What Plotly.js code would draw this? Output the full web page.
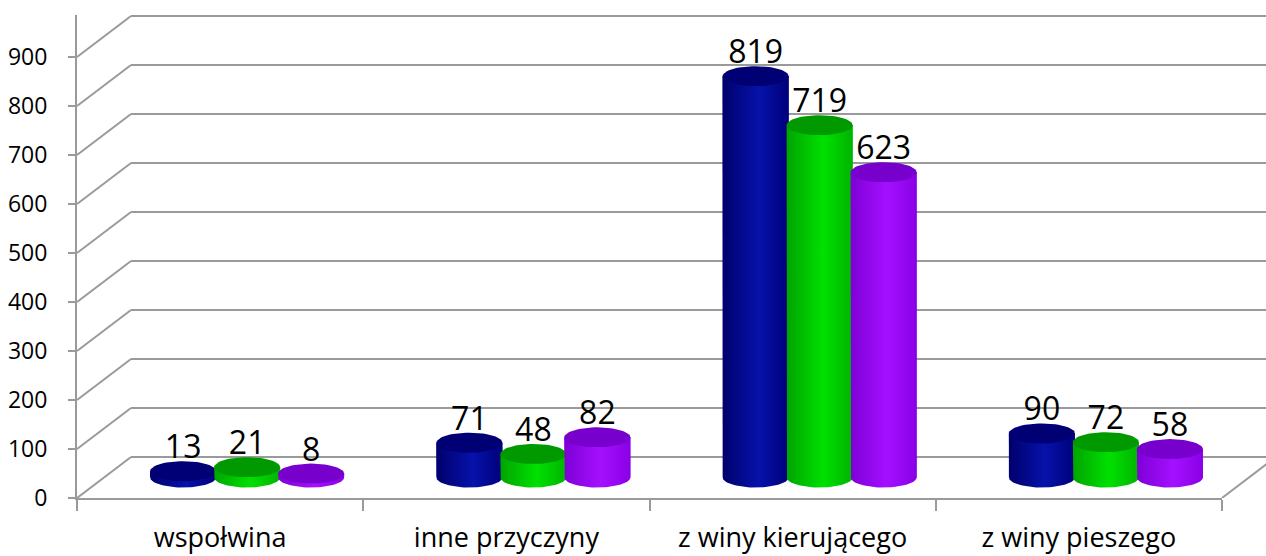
<!DOCTYPE html>
<html>
<head>
<meta charset="utf-8">
<script src="https://cdn.plot.ly/plotly-3.0.1.min.js"></script>
<style>html,body{margin:0;padding:0;background:#fff;}#chart{width:1266px;height:556px;}</style>
</head>
<body>
<div id="chart"></div>
<script>
// ---- data ----
const categories = ['wspołwina', 'inne przyczyny', 'z winy kierującego', 'z winy pieszego'];
const series1 = [13, 71, 819, 90];   // blue
const series2 = [21, 48, 719, 72];   // green
const series3 = [8, 82, 623, 58];    // purple
const seriesNames = ['Seria 1', 'Seria 2', 'Seria 3'];
const yTickVals = [0, 100, 200, 300, 400, 500, 600, 700, 800, 900];

// ---- styles ----
const bodyColors = ['#00008f', '#00c800', '#9600f5'];
const bodyScales = [
  [[0, '#00006c'], [0.55, '#0612aa'], [1, '#00007a']],
  [[0, '#00a400'], [0.55, '#00e000'], [1, '#00b400']],
  [[0, '#7e00d6'], [0.55, '#a410ff'], [1, '#8a00e6']]
];
const topColors = ['#000074', '#009a00', '#7800cc'];
const gridColor = '#9a9a9a';

// ---- geometry (px) ----
const W = 1266, H = 556;
const mL = 77, mR = 0, mT = 15, mB = 58;
const plotW = W - mL - mR, plotH = H - mT - mB;
const frontW = 1145;
const pxPerUnit = 441 / 900;
const yTop = plotH / pxPerUnit;
const depthX = 54, depthY = 41;
const pxPerCat = frontW / categories.length;
const dx = (depthX / 2) / pxPerCat;
const dy = (depthY / 2) / pxPerUnit;
const backDy = depthY / pxPerUnit;
const backDx = depthX / plotW;
const xDom = frontW / plotW;

const barW = 66 / pxPerCat;
const barStep = 64 / pxPerCat;
const capH = 10 / pxPerUnit;
const labelGap = 5 / pxPerUnit;

const allSeries = [series1, series2, series3];
const catIdx = categories.map((_, i) => i);

const traces = [];
traces.push({type: 'scatter', x: categories, y: categories.map(() => 0), mode: 'markers',
  marker: {opacity: 0}, hoverinfo: 'skip', showlegend: false, xaxis: 'x', yaxis: 'y'});

allSeries.forEach((vals, s) => {
  const off = (s - 1) * barStep;
  traces.push({type: 'bar', name: seriesNames[s], x: catIdx, y: vals, base: 0,
    width: barW, offset: off - barW / 2, marker: {color: bodyColors[s], line: {width: 0}},
    xaxis: 'x2', yaxis: 'y2', showlegend: false, hoverinfo: 'y'});
});

// cylinder shading: body (with rounded bottom) + top ellipse, per bar
catIdx.forEach(i => {
  allSeries.forEach((vals, s) => {
    const v = vals[i];
    const cx = i + (s - 1) * barStep;
    const a = barW / 2;
    const px = [cx - a], py = [v];
    for (let k = 0; k <= 40; k++) {
      const t = Math.PI + Math.PI * k / 40;
      px.push(cx + a * Math.cos(t)); py.push(capH * Math.sin(t));
    }
    px.push(cx + a); py.push(v);
    traces.push({type: 'scatter', x: px, y: py, mode: 'lines', fill: 'toself',
      fillcolor: bodyColors[s],
      fillgradient: {type: 'horizontal', colorscale: bodyScales[s], start: cx - a, stop: cx + a},
      line: {width: 0, color: bodyColors[s]},
      xaxis: 'x2', yaxis: 'y2', hoverinfo: 'skip', showlegend: false, cliponaxis: false});
    const tx = [], ty = [];
    for (let k = 0; k <= 60; k++) {
      const t = 2 * Math.PI * k / 60;
      tx.push(cx + a * Math.cos(t)); ty.push(v + capH * Math.sin(t));
    }
    traces.push({type: 'scatter', x: tx, y: ty, mode: 'lines', fill: 'toself',
      fillcolor: topColors[s], line: {width: 0, color: topColors[s]},
      xaxis: 'x2', yaxis: 'y2', hoverinfo: 'skip', showlegend: false, cliponaxis: false});
  });
});

allSeries.forEach((vals, s) => {
  const off = (s - 1) * barStep;
  traces.push({type: 'scatter', mode: 'text', x: catIdx.map(i => i + off),
    y: vals.map(v => v + capH - labelGap), text: vals.map(String), textposition: 'top center',
    textfont: {family: 'Open Sans', size: 32, color: '#000'},
    xaxis: 'x2', yaxis: 'y2', hoverinfo: 'skip', showlegend: false, cliponaxis: false});
});

const shapes = [];
yTickVals.forEach(v => {
  shapes.push({type: 'line', xref: 'paper', yref: 'y', x0: 0, y0: v, x1: backDx, y1: v + backDy,
    line: {color: gridColor, width: 2}, layer: 'below'});
  shapes.push({type: 'line', xref: 'paper', yref: 'y', x0: backDx, y0: v + backDy, x1: 1.05, y1: v + backDy,
    line: {color: gridColor, width: 2}, layer: 'below'});
});
shapes.push({type: 'line', xref: 'paper', yref: 'y', x0: xDom, y0: 0, x1: xDom + backDx, y1: backDy,
  line: {color: gridColor, width: 2}, layer: 'below'});

const layout = {
  width: W, height: H,
  margin: {l: mL, r: mR, t: mT, b: mB, pad: 0},
  paper_bgcolor: '#fff', plot_bgcolor: 'rgba(0,0,0,0)',
  showlegend: false,
  barmode: 'overlay',
  font: {family: 'Open Sans', color: '#000'},
  xaxis: {type: 'category', domain: [0, xDom], range: [-0.5, categories.length - 0.5],
    categoryorder: 'array', categoryarray: categories,
    showgrid: false, zeroline: false, showline: true, linecolor: gridColor, linewidth: 2,
    ticks: 'outside', tickson: 'boundaries', ticklen: 11, tickcolor: gridColor, tickwidth: 2,
    tickfont: {family: 'Open Sans', size: 27, color: '#000'}, ticklabelstandoff: 15, fixedrange: true},
  yaxis: {range: [0, yTop], tickvals: yTickVals, ticktext: yTickVals.map(String),
    showgrid: false, zeroline: false, showline: true, linecolor: gridColor, linewidth: 2,
    ticks: 'outside', ticklen: 7, tickcolor: gridColor, tickwidth: 2,
    tickfont: {family: 'Open Sans', size: 23, color: '#000'}, ticklabelstandoff: 16, fixedrange: true},
  xaxis2: {overlaying: 'x', domain: [0, xDom], range: [-0.5 - dx, categories.length - 0.5 - dx],
    visible: false, fixedrange: true},
  yaxis2: {overlaying: 'y', range: [-dy, yTop - dy], visible: false, fixedrange: true},
  shapes: shapes
};

Plotly.newPlot('chart', traces, layout, {displayModeBar: false, staticPlot: true});
</script>
</body>
</html>
